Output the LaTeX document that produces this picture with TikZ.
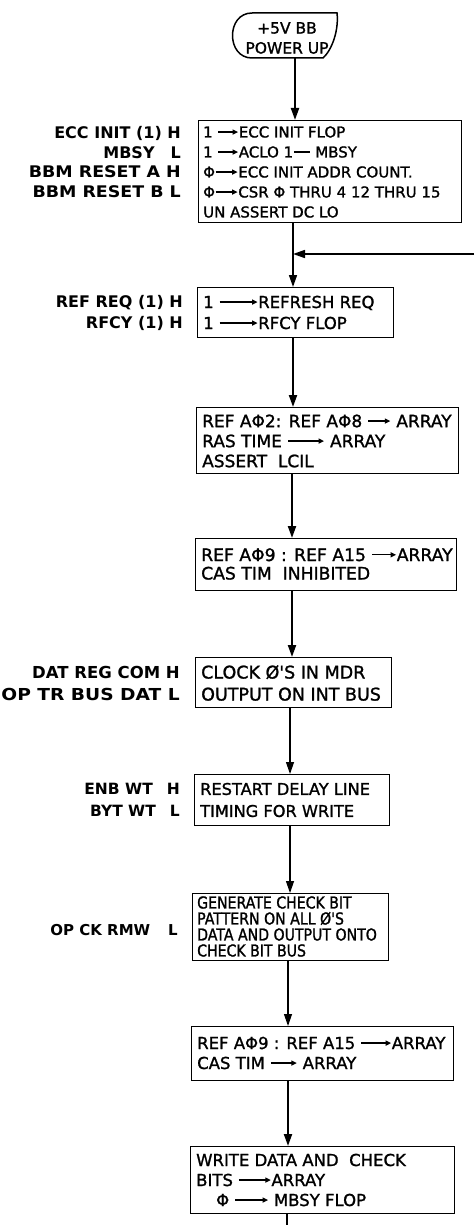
\documentclass[tikz,border=0pt]{standalone}
\usepackage{fontspec}
\setmainfont{DejaVu Sans}
\newfontfamily\bxf{DejaVu Sans}[FakeBold=1.3]
\newfontfamily\bxc{DejaVu Sans}[FakeBold=1.3,FakeStretch=0.86]
\usetikzlibrary{arrows.meta}
\newcommand\ra[1]{\tikz[baseline={(0pt,-0.36em)}]\draw[line width=1.3pt,-{Triangle[length=5.5pt,width=5pt]}](0pt,0pt)--(#1pt,0pt);}
\newcommand\rl[1]{\tikz[baseline={(0pt,-0.36em)}]\draw[line width=1.3pt](0pt,0pt)--(#1pt,0pt);}
\newcommand\fs[2]{\fontsize{#1pt}{#2pt}\selectfont}
\newcommand\wide[2]{\scalebox{#1}[1]{#2}}
\begin{document}
\begin{tikzpicture}[x=1pt,y=1pt,
  box/.style={draw,line width=1.4pt,inner sep=0pt,anchor=north west},
  txt/.style={anchor=west,align=left,inner sep=0pt},
  lab/.style={anchor=east,align=right,inner sep=0pt},
  conn/.style={line width=1.8pt,-{Triangle[length=12pt,width=8pt]}},
  thin/.style={line width=1.2pt,-{Triangle[length=12pt,width=8pt]}}]
\useasboundingbox (0,0) rectangle (474,-1225);
% column coordinates
\coordinate (k1) at (295,0);
\coordinate (k2) at (293,0);
\coordinate (k4) at (292,0);
\coordinate (k5) at (290,0);
\coordinate (k6) at (288,0);
\coordinate (k7) at (287,0);
% terminal
\node[minimum width=106pt,minimum height=45pt,inner sep=0pt] (T) at (285,-35.5) {};
\draw[line width=1.5pt] (252,-13) -- (337,-13) .. controls (339,-30) and (332,-50) .. (323,-58) -- (252,-58) .. controls (226,-58) and (226,-13) .. (252,-13);
\node[align=center,inner sep=0pt,font=\bxf\fs{15.5}{20}] (Tt) at (287,-38) {+5V BB\\POWER UP};
% box 1
\node[box,minimum width=263pt,minimum height=102pt] (B1) at (198,-120) {};
\node[txt,font=\bxf\fs{15}{20}] (B1t) at (203,-172) {1 \ra{20}ECC INIT FLOP\\1 \ra{20}ACLO 1\rl{16} MBSY\\Φ\ra{22}ECC INIT ADDR COUNT.\\Φ\ra{22}CSR Φ THRU 4 12 THRU 15\\UN ASSERT DC LO};
\node[lab,font=\bfseries\fs{16}{19.5}] (L1) at (181,-162) {ECC INIT (1) H\\MBSY\hspace{16pt}L\\\wide{1.09}{BBM RESET A H}\\\wide{1.09}{BBM RESET B L}};
% box 2
\node[box,minimum width=196pt,minimum height=50pt] (B2) at (197,-287) {};
\node[txt,font=\bxf\fs{16.5}{21}] (B2t) at (203,-312.5) {1 \ra{38}REFRESH REQ\\1 \ra{38}RFCY FLOP};
\node[lab,font=\bfseries\fs{16}{21}] (L2) at (183,-312.5) {REF REQ (1) H\\RFCY (1) H};
% box 3
\node[box,minimum width=262pt,minimum height=66pt] (B3) at (196,-407) {};
\node[txt,font=\bxf\fs{17}{20}] (B3t) at (202,-441) {REF AΦ2: REF AΦ8 \ra{22} ARRAY\\RAS TIME \ra{36} ARRAY\\ASSERT\ \ LCIL};
% box 4
\node[box,minimum width=261pt,minimum height=52pt] (B4) at (195,-538) {};
\node[txt,font=\bxf\fs{17.2}{18.5}] (B4t) at (201,-564) {REF AΦ9 : REF A15 \ra{24}ARRAY\\CAS TIM\ \ INHIBITED};
% box 5
\node[box,minimum width=196pt,minimum height=50pt] (B5) at (195,-657) {};
\node[txt,font=\bxf\fs{17.5}{22}] (B5t) at (201,-683) {CLOCK Ø'S IN MDR\\OUTPUT ON INT BUS};
\node[lab,font=\bfseries\fs{16.5}{22}] (L5) at (180,-683) {DAT REG COM H\\\wide{1.13}{OP TR BUS DAT L}};
% box 6
\node[box,minimum width=195pt,minimum height=51pt] (B6) at (194,-774) {};
\node[txt,font=\bxf\fs{16.2}{22}] (B6t) at (200,-800) {RESTART DELAY LINE\\TIMING FOR WRITE};
\node[lab,font=\bfseries\fs{15.5}{22}] (L6) at (180,-800) {ENB WT\hspace{14pt}H\\BYT WT\hspace{14pt}L};
% box 7
\node[box,minimum width=196pt,minimum height=67pt] (B7) at (192,-893) {};
\node[txt,font=\bxc\fs{16.4}{16}] (B7t) at (197,-926.5) {GENERATE CHECK BIT\\PATTERN ON ALL Ø'S\\DATA AND OUTPUT ONTO\\CHECK BIT BUS};
\node[lab,font=\bfseries\fs{15}{20}] (L7) at (178,-930) {OP CK RMW\hspace{18pt}L};
% box 8
\node[box,minimum width=262pt,minimum height=54pt] (B8) at (191,-1026) {};
\node[txt,font=\bxf\fs{16.5}{20}] (B8t) at (197,-1053) {REF AΦ9 : REF A15 \ra{30}ARRAY\\CAS TIM \ra{26} ARRAY};
% box 9
\node[box,minimum width=264pt,minimum height=67pt] (B9) at (190,-1146) {};
\node[txt,font=\bxf\fs{16.5}{20}] (B9t) at (196,-1180) {WRITE DATA AND\ \ CHECK\\BITS \ra{32}ARRAY\\\hspace*{20pt}Φ \ra{33} MBSY FLOP};
% connectors
\coordinate (fb) at (474,-254);
\coordinate (end) at (287,-1225);
\draw[conn,line width=2pt] (T.south -| k1) -- (B1.north -| k1);
\draw[conn,line width=1.6pt] (B1.south -| k2) -- (B2.north -| k2);
\draw[conn,line width=1.6pt] (fb) -- (fb -| k2);
\draw[conn,line width=2pt] (B2.south -| k2) -- (B3.north -| k2);
\draw[conn,line width=2pt] (B3.south -| k4) -- (B4.north -| k4);
\draw[conn,line width=2pt] (B4.south -| k4) -- (B5.north -| k4);
\draw[thin] (B5.south -| k5) -- (B6.north -| k5);
\draw[thin] (B6.south -| k5) -- (B7.north -| k5);
\draw[thin] (B7.south -| k6) -- (B8.north -| k6);
\draw[conn,line width=2pt] (B8.south -| k6) -- (B9.north -| k6);
\draw[line width=2pt] (B9.south -| k7) -- (end);
\end{tikzpicture}
\end{document}
